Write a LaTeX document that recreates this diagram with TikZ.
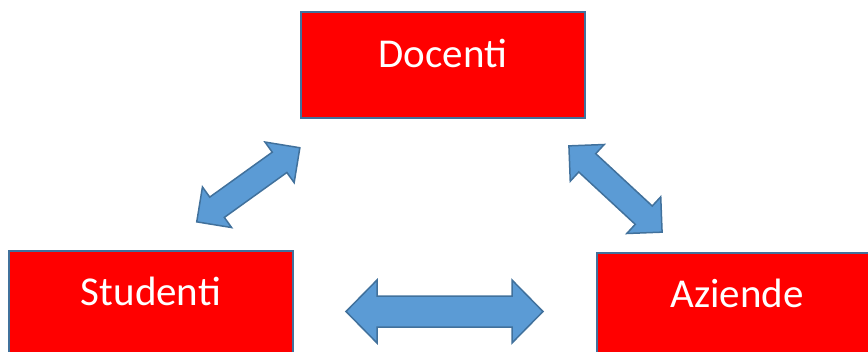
\documentclass[tikz,border=0pt]{standalone}
\usepackage{fontspec}
\setmainfont{Carlito}
\definecolor{boxred}{HTML}{FF0000}
\definecolor{edgeblue}{HTML}{41719C}
\definecolor{arrowblue}{HTML}{5B9BD5}
\tikzset{
  redbox/.style={draw=edgeblue, line width=2bp, fill=boxred},
  boxtext/.style={anchor=base, inner sep=0pt, text=white,
    font=\fontsize{41bp}{49bp}\selectfont},
  blockarrow/.style={draw=edgeblue, line width=1.5bp, fill=arrowblue, line join=miter}
}
% double-headed block arrow: #1 half length, #2 head length, #3 half head width, #4 half shaft width
\newcommand\dblarrowpath[4]{%
  (-#1,0) -- (-#1+#2,#3) -- (-#1+#2,#4) -- (#1-#2,#4) -- (#1-#2,#3) -- (#1,0)
  -- (#1-#2,-#3) -- (#1-#2,-#4) -- (-#1+#2,-#4) -- (-#1+#2,-#3) -- cycle}
\begin{document}
\begin{tikzpicture}[x=1bp, y=-1bp]
  \useasboundingbox (0,0) rectangle (868,351);
  \clip (0,0) rectangle (868,351);

  % boxes
  \draw[redbox] (301,12) rectangle (585,118);
  \node[boxtext] (docenti) at (443,67) {Docenti};

  \draw[redbox] (9,251) rectangle (293,380);
  \node[boxtext] (studenti) at (151,305) {Studenti};

  \draw[redbox] (597,253) rectangle (881,380);
  \node[boxtext] (aziende) at (737,307) {Aziende};

  % arrows between the groups
  \begin{scope}[shift={(248.3,184.8)}, rotate=35.7]
    \draw[blockarrow] \dblarrowpath{63.5}{25}{25}{12.5};
  \end{scope}
  \begin{scope}[shift={(615.5,189)}, rotate=-42.8]
    \draw[blockarrow] \dblarrowpath{63.5}{25}{25}{12.5};
  \end{scope}
  \begin{scope}[shift={(444.5,311.5)}]
    \draw[blockarrow] \dblarrowpath{98.5}{31}{31.5}{15.5};
  \end{scope}
\end{tikzpicture}
\end{document}
